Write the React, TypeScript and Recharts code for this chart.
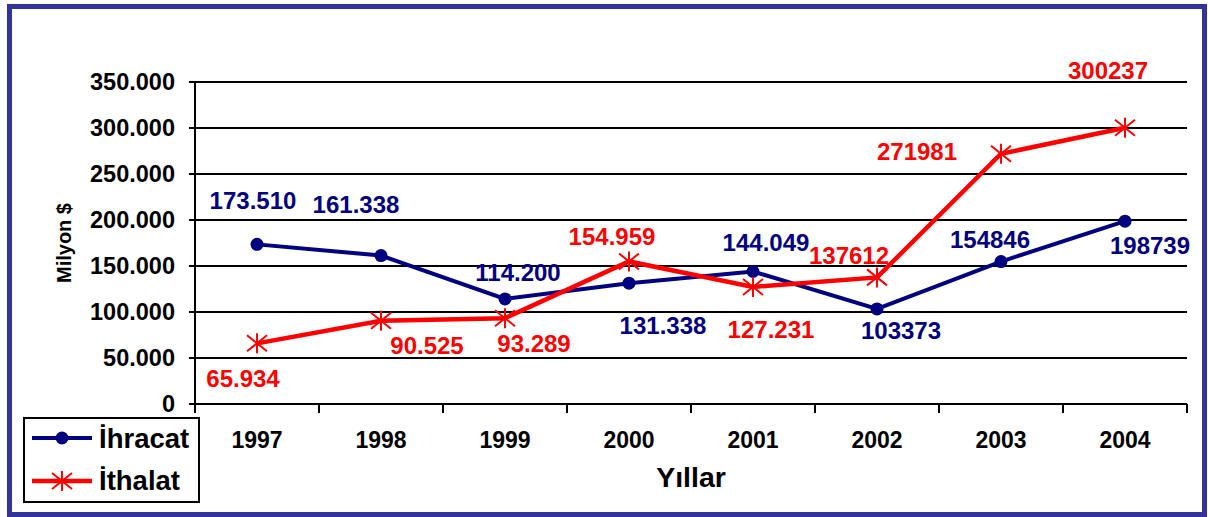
import { CartesianGrid, LabelList, Line, LineChart, XAxis, YAxis } from "recharts";

const years = ["1997", "1998", "1999", "2000", "2001", "2002", "2003", "2004"];
const ihracat = [173510, 161338, 114200, 131338, 144049, 103373, 154846, 198739];
const ithalat = [65934, 90525, 93289, 154959, 127231, 137612, 271981, 300237];
const ihracatLabels = ["173.510", "161.338", "114.200", "131.338", "144.049", "103373", "154846", "198739"];
const ithalatLabels = ["65.934", "90.525", "93.289", "154.959", "127.231", "137612", "271981", "300237"];
const yTicks = [0, 50000, 100000, 150000, 200000, 250000, 300000, 350000];

// label offsets from the point, as placed in the original
const ihracatOffsets = [
  [-4, -44], [-25, -51], [13, -26], [34, 42], [13, -29], [24, 22], [-11, -22], [25, 24],
];
const ithalatOffsets = [
  [-14, 35], [46, 25], [29, 25], [-17, -25], [18, 43], [-28, -22], [-84, -2], [-17, -57],
];

const NAVY = "#000080";
const RED = "#FF0000";
const FONT = "'Liberation Sans', Arial, sans-serif";

const rows = years.map((y, i) => ({
  x: i + 0.5,
  year: y,
  ihracat: ihracat[i],
  ithalat: ithalat[i],
}));

const xTicks = Array.from({ length: 17 }, (_, i) => i / 2);

function fmtY(v: number): string {
  if (v === 0) return "0";
  return `${Math.floor(v / 1000)}.${String(v % 1000).padStart(3, "0")}`;
}

function XTick(props: any) {
  const { x, y, payload } = props;
  const v = Number(payload.value);
  if (Number.isInteger(v)) {
    return <line x1={x} x2={x} y1={y} y2={y + 9} stroke="#000" strokeWidth={2} />;
  }
  const idx = Math.floor(v);
  return (
    <text x={x} y={y + 44} textAnchor="middle" fontFamily={FONT} fontWeight="bold" fontSize={23} fill="#000">
      {years[idx]}
    </text>
  );
}

function Asterisk(props: any) {
  const { cx, cy, index } = props;
  if (!Number.isFinite(cx) || !Number.isFinite(cy)) return <g key={index} />;
  return (
    <g key={index} stroke={RED} strokeWidth={2}>
      <line x1={cx} x2={cx} y1={cy - 10} y2={cy + 10} />
      <line x1={cx - 10} x2={cx + 10} y1={cy - 8} y2={cy + 8} />
      <line x1={cx - 10} x2={cx + 10} y1={cy + 8} y2={cy - 8} />
    </g>
  );
}

function makeLabel(texts: string[], offsets: number[][], color: string) {
  return (props: any) => {
    const { x, y, index } = props;
    const [dx, dy] = offsets[index];
    return (
      <text
        x={Number(x) + dx}
        y={Number(y) + dy}
        textAnchor="middle"
        dominantBaseline="central"
        fontFamily={FONT}
        fontWeight="bold"
        fontSize={24}
        fill={color}
      >
        {texts[index]}
      </text>
    );
  };
}

function LegendBox() {
  return (
    <svg
      width={177}
      height={86}
      style={{ position: "absolute", left: 23, top: 417 }}
    >
      <rect x={1} y={1} width={175} height={84} fill="#fff" stroke="#000" strokeWidth={2} />
      <line x1={9} x2={69} y1={21} y2={21} stroke={NAVY} strokeWidth={4} />
      <circle cx={39} cy={21} r={6.5} fill={NAVY} />
      <text x={76} y={31} fontFamily={FONT} fontWeight="bold" fontSize={27.5} fill="#000">
        İhracat
      </text>
      <line x1={9} x2={69} y1={64} y2={64} stroke={RED} strokeWidth={4.5} />
      <g stroke={RED} strokeWidth={2}>
        <line x1={39} x2={39} y1={54} y2={74} />
        <line x1={29} x2={49} y1={56} y2={72} />
        <line x1={29} x2={49} y1={72} y2={56} />
      </g>
      <text x={76} y={73} fontFamily={FONT} fontWeight="bold" fontSize={27.5} fill="#000">
        İthalat
      </text>
    </svg>
  );
}

export default function App() {
  return (
    <div style={{ position: "absolute", left: 0, top: 0, width: 1208, height: 517, background: "#fff" }}>
      <div
        style={{
          position: "absolute",
          left: 7,
          top: 4,
          width: 1200,
          height: 513,
          border: "5px solid #333399",
          boxSizing: "border-box",
        }}
      />
      <div style={{ position: "absolute", left: 0, top: 0 }}>
        <LineChart width={1208} height={517} data={rows} margin={{ top: 82, right: 21, left: 0, bottom: 0 }}>
          <CartesianGrid vertical={false} stroke="#000" strokeWidth={2} />
          <XAxis
            dataKey="x"
            type="number"
            domain={[0, 8]}
            ticks={xTicks}
            interval={0}
            height={113}
            tickLine={false}
            tickSize={0}
            tickMargin={0}
            axisLine={{ stroke: "#000", strokeWidth: 2 }}
            tick={<XTick />}
            label={{
              content: (p: any) => {
                const vb = p.viewBox;
                return (
                  <text
                    x={vb.x + vb.width / 2}
                    y={vb.y + 83}
                    textAnchor="middle"
                    fontFamily={FONT}
                    fontWeight="bold"
                    fontSize={28.5}
                    fill="#000"
                  >
                    Yıllar
                  </text>
                );
              },
            }}
          />
          <YAxis
            type="number"
            domain={[0, 350000]}
            ticks={yTicks}
            interval={0}
            width={195}
            tickSize={6}
            tickMargin={14}
            tickFormatter={(v) => fmtY(Number(v))}
            tickLine={{ stroke: "#000", strokeWidth: 2 }}
            axisLine={{ stroke: "#000", strokeWidth: 2 }}
            tick={{ fill: "#000", fontFamily: FONT, fontWeight: "bold", fontSize: 23.5 }}
            label={{
              content: (p: any) => {
                const vb = p.viewBox;
                const cx = vb.x + 64;
                const cy = vb.y + vb.height / 2;
                return (
                  <text
                    x={cx}
                    y={cy}
                    transform={`rotate(-90 ${cx} ${cy})`}
                    textAnchor="middle"
                    dominantBaseline="central"
                    fontFamily={FONT}
                    fontWeight="bold"
                    fontSize={20}
                    fill="#000"
                  >
                    Milyon $
                  </text>
                );
              },
            }}
          />
          <Line
            dataKey="ihracat"
            stroke={NAVY}
            strokeWidth={4}
            dot={{ r: 6.5, fill: NAVY, stroke: NAVY, strokeWidth: 0 }}
            isAnimationActive={false}
          >
            <LabelList dataKey="ihracat" content={makeLabel(ihracatLabels, ihracatOffsets, NAVY)} />
          </Line>
          <Line
            dataKey="ithalat"
            stroke={RED}
            strokeWidth={4.5}
            dot={(p: any) => <Asterisk {...p} />}
            isAnimationActive={false}
          >
            <LabelList dataKey="ithalat" content={makeLabel(ithalatLabels, ithalatOffsets, RED)} />
          </Line>
        </LineChart>
      </div>
      <LegendBox />
    </div>
  );
}
